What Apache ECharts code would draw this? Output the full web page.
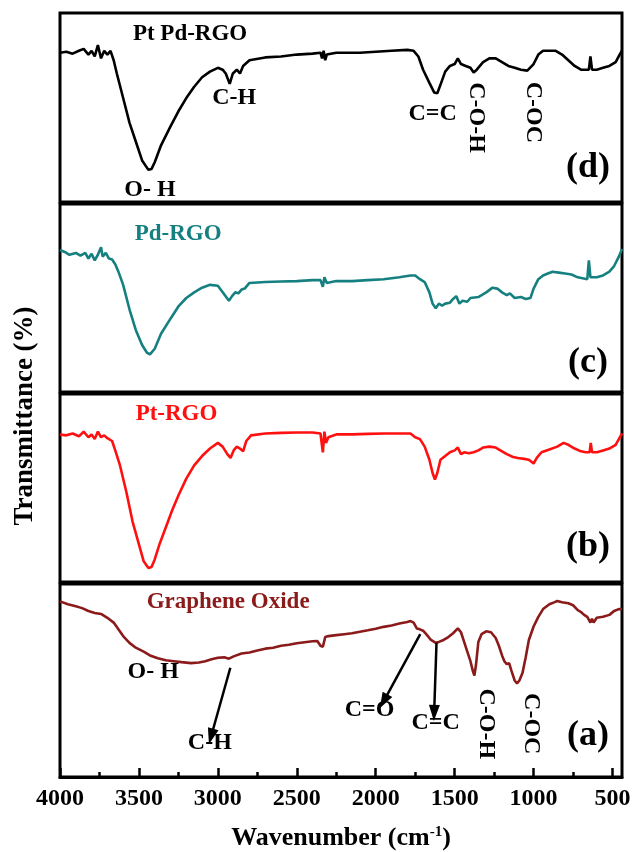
<!DOCTYPE html>
<html><head><meta charset="utf-8">
<script src="https://cdn.jsdelivr.net/npm/echarts@6/dist/echarts.min.js"></script>
<style>html,body{margin:0;padding:0;background:#fff}#c{width:633px;height:852px}</style>
</head><body><div id="c"></div>
<script>
// ---- data (wavenumber cm-1, relative transmittance within each panel) ----
const ptpdData = [[4000,79],[3960,79.5],[3920,78.5],[3880,80],[3850,81],[3820,78],[3800,80],[3780,77],[3760,83],[3740,76],[3720,80],[3700,78],[3680,80],[3660,75],[3640,68],[3600,55],[3560,42],[3520,32],[3480,22],[3440,17],[3420,17.5],[3400,21],[3360,30],[3300,40],[3250,48],[3200,55],[3150,61],[3100,66],[3050,69],[3000,71],[2970,70],[2950,68],[2925,62.5],[2905,68],[2880,70],[2860,68],[2840,72],[2800,75],[2700,76.5],[2600,77],[2500,78],[2400,78.5],[2350,79],[2340,76],[2330,80],[2320,75],[2310,78],[2250,79],[2100,79],[2000,79.5],[1900,80],[1800,80.5],[1760,80],[1730,77],[1700,70],[1660,63],[1630,58],[1610,57.5],[1590,62],[1560,69],[1530,72],[1500,73],[1480,76],[1460,73],[1430,72],[1400,71],[1380,68.5],[1360,70],[1320,74],[1280,76],[1240,76],[1200,74],[1160,72],[1120,71],[1080,70],[1040,69.5],[1000,73],[970,78],[940,80],[900,80],[860,80],[820,78],[780,75],[740,72],[700,70],[670,70],[650,70],[640,77],[630,70],[600,70],[560,71],[520,72],[480,74],[455,78],[440,80]];
const pdData = [[4000,75.5],[3970,74.5],[3940,73],[3900,74],[3870,72.5],[3840,74],[3820,71],[3800,73.5],[3780,70],[3760,73],[3740,77],[3730,72],[3710,74],[3690,71],[3670,70.5],[3650,68],[3630,64],[3600,57],[3560,44],[3520,33],[3480,25],[3450,21],[3430,20],[3400,23],[3360,31],[3300,39],[3250,45.5],[3200,50],[3150,53],[3100,55.5],[3050,57],[3000,56.5],[2960,52],[2930,48.5],[2910,51],[2890,53],[2870,52.5],[2850,54.5],[2830,55],[2800,58],[2700,58.5],[2600,58.8],[2500,59],[2400,59.5],[2350,59.5],[2335,56],[2325,61],[2310,58],[2250,59],[2150,59],[2050,59.5],[1950,60],[1850,61],[1780,62],[1750,62],[1720,60],[1690,58.5],[1660,53],[1640,47],[1620,44.5],[1600,47],[1580,46],[1560,47],[1530,47.5],[1510,49.5],[1490,51],[1470,47],[1450,48.5],[1420,48],[1400,50],[1350,50.5],[1300,53],[1260,55.5],[1230,55],[1200,53],[1170,51.5],[1150,52.5],[1120,50],[1080,50.5],[1050,49.5],[1020,50],[1000,55],[970,60],[940,62],[910,63],[880,64],[840,63.5],[800,63],[760,62.5],[720,61],[690,60.5],[660,60],[650,70],[640,61],[600,61],[560,62],[520,64],[490,67],[460,72],[440,76]];
const ptData = [[4000,78.5],[3960,78],[3920,79],[3880,77.5],[3850,80],[3820,77],[3800,78.5],[3780,76],[3760,80],[3740,77],[3720,78],[3700,76.5],[3670,75],[3650,70],[3620,62],[3580,48],[3540,32],[3500,20],[3470,11],[3440,7.5],[3420,8],[3400,12],[3370,20],[3330,29],[3290,38],[3250,46],[3200,55],[3150,62],[3100,67],[3050,71],[3000,74],[2970,72],[2940,68],[2920,66],[2900,70],[2880,72],[2860,71],[2840,69.5],[2820,75],[2790,78],[2700,79],[2600,79.3],[2500,79.5],[2400,79.5],[2350,79],[2335,69],[2325,80],[2315,74],[2300,77],[2250,78.5],[2150,78.5],[2050,78.8],[1950,79],[1850,79],[1780,79],[1750,77],[1720,76],[1690,72],[1660,65],[1640,58],[1625,54.5],[1610,58],[1590,65],[1560,67],[1530,69],[1500,70],[1480,71.5],[1460,68],[1440,69],[1410,68.5],[1380,69],[1350,70],[1320,71.5],[1280,72],[1240,71.5],[1200,69.5],[1170,68],[1130,66.5],[1100,66],[1060,65.5],[1030,65],[1000,63],[980,66],[950,69],[900,70.5],[850,72],[810,74],[780,73],[740,71],[700,69.5],[670,69],[645,69],[638,74],[630,69],[600,69],[560,70],[520,71],[480,73],[460,76],[440,79]];
const goData = [[4000,91],[3950,89.5],[3900,88.5],[3860,87.5],[3820,86],[3780,85],[3740,84.5],[3700,82.5],[3660,80],[3630,76.5],[3600,73],[3560,69.5],[3520,67],[3470,65],[3430,63],[3380,61.5],[3330,60.5],[3280,60],[3230,59.5],[3170,59],[3120,59.3],[3080,60],[3040,61],[3000,61.8],[2960,62],[2930,61.3],[2900,62.5],[2850,64],[2800,64.5],[2750,65.5],[2700,66.5],[2650,67],[2600,68],[2550,68.5],[2500,69.3],[2450,69.8],[2400,70.3],[2370,70.5],[2350,68],[2335,67.5],[2320,72.5],[2300,73],[2250,73.5],[2200,74],[2150,74.5],[2100,75.3],[2050,76],[2000,76.8],[1950,77.8],[1900,78.5],[1850,79.5],[1800,80.3],[1780,80.8],[1760,80],[1740,77],[1720,76.5],[1700,75.8],[1680,74],[1650,71],[1620,69.5],[1600,70],[1570,71],[1540,72.5],[1510,74.5],[1480,77],[1460,75],[1440,70],[1420,65],[1400,60],[1385,55],[1375,52.5],[1365,58],[1350,70],[1330,74],[1300,75.5],[1270,75],[1240,72],[1220,68],[1200,63],[1185,60],[1170,58.5],[1155,59],[1140,55],[1120,50],[1105,48.5],[1090,50],[1070,54],[1050,62],[1030,71],[1000,78],[970,83],[940,87],[900,89.5],[870,90.5],[850,91.2],[820,90.5],[780,90],[750,89],[720,86.5],[700,85.5],[680,84],[660,83],[640,80],[630,82],[620,80],[600,82.5],[560,83],[520,84],[490,86],[460,87],[440,87]];
const seriesNames = ['Pt Pd-RGO','Pd-RGO','Pt-RGO','Graphene Oxide'];
const panelTags = ['(d)','(c)','(b)','(a)'];
const majorTicks = [4000,3500,3000,2500,2000,1500,1000,500];
const minorTicks = [3750,3250,2750,2250,1750,1250,750];

// ---- styling / layout ----
const FONT = '"Liberation Serif","Times New Roman",serif';
const colors = ['#000000','#168080','#ff1010','#8b1a1a'];
const allData = [ptpdData, pdData, ptData, goData];
const gridBoxes = [[13,189],[204,188],[394,188],[584,193]];

const chart = echarts.init(document.getElementById('c'));
const grids = gridBoxes.map(([t,h]) => ({left:60, right:11, top:t, height:h, show:true, borderColor:'#000', borderWidth:3, containLabel:false, outerBoundsMode:'none'}));
const xAxes = gridBoxes.map((g,i) => ({
  type:'value', gridIndex:i, min:440, max:4000, inverse:true, show: i===3,
  axisLine:{show:true, onZero:false, lineStyle:{color:'#000', width:3}},
  axisTick:{show:true, inside:true, length:9, lineStyle:{color:'#000', width:2.5}, customValues:majorTicks},
  axisLabel:{show:true, customValues:majorTicks, formatter:v => String(v), fontFamily:FONT, fontWeight:'bold', fontSize:24, color:'#000', margin:10},
  splitLine:{show:false},
  name: i===3 ? 'Wavenumber (cm{sup|-1})' : '',
  nameLocation:'middle', nameGap:48,
  nameTextStyle:{fontFamily:FONT, fontWeight:'bold', fontSize:26, color:'#000',
    rich:{sup:{fontFamily:FONT, fontWeight:'bold', fontSize:15, color:'#000', verticalAlign:'top', padding:[0,0,12,0]}}}
}));
xAxes.push({
  type:'value', gridIndex:3, min:440, max:4000, inverse:true, position:'bottom',
  axisLine:{show:false}, axisLabel:{show:false}, splitLine:{show:false},
  axisTick:{show:true, inside:true, length:5, lineStyle:{color:'#000', width:2.5}, customValues:minorTicks}
});
const yAxes = gridBoxes.map((g,i) => ({type:'value', gridIndex:i, min:0, max:100, show:false}));

const series = allData.map((d,i) => ({
  type:'line', name:seriesNames[i], xAxisIndex:i, yAxisIndex:i, data:d,
  showSymbol:false, symbol:'none', lineStyle:{color:colors[i], width:2.6}, silent:true
}));
// arrows in panel (a)
series[3].markLine = {
  silent:true, symbol:['none','triangle'], symbolSize:[11,16],
  label:{show:false}, lineStyle:{color:'#000', width:2.5, type:'solid'},
  data:[
    [{coord:[2921,56.6]},{coord:[3043,21]}],
    [{coord:[1718,74]},{coord:[1950,39.2]}],
    [{coord:[1615,69.6]},{coord:[1630,33.2]}]
  ]
};

chart.setOption({animation:false, backgroundColor:'#fff', grid:grids, xAxis:xAxes, yAxis:yAxes, series:series});

const annotations = [
  {p:0, t:seriesNames[0], wn:3176, v:88.9, c:colors[0], s:23},
  {p:0, t:'O- H', wn:3430, v:6.6},
  {p:0, t:'C-H', wn:2896, v:55.3},
  {p:0, t:'C=C', wn:1640, v:46.5},
  {p:0, t:'C-O-H', wn:1365, v:44.7, r:true},
  {p:0, t:'C-OC', wn:1005, v:47.4, r:true},
  {p:0, t:panelTags[0], wn:655, v:18, s:36},
  {p:1, t:seriesNames[1], wn:3252, v:84, c:colors[1], s:23},
  {p:1, t:panelTags[1], wn:655, v:15.5, s:36},
  {p:2, t:seriesNames[2], wn:3262, v:89.3, c:colors[2], s:23},
  {p:2, t:panelTags[2], wn:655, v:18.7, s:36},
  {p:3, t:seriesNames[3], wn:2935, v:90.9, c:colors[3], s:23},
  {p:3, t:'O- H', wn:3410, v:54.4},
  {p:3, t:'C-H', wn:3051, v:17.7},
  {p:3, t:'C=O', wn:2039, v:34.9},
  {p:3, t:'C=C', wn:1621, v:28},
  {p:3, t:'C-O-H', wn:1302, v:27.6, r:true},
  {p:3, t:'C-OC', wn:1016, v:27.6, r:true},
  {p:3, t:panelTags[3], wn:655, v:21.5, s:36}
];
const graphics = annotations.map(a => {
  const pt = chart.convertToPixel({xAxisIndex:a.p, yAxisIndex:a.p}, [a.wn, a.v]);
  return {type:'text', x:pt[0], y:pt[1], rotation: a.r ? -Math.PI/2 : 0, silent:true,
    style:{text:a.t, font:'bold ' + (a.s||24) + 'px ' + FONT, fill:a.c||'#000', align:'center', verticalAlign:'middle'}};
});
graphics.push({type:'text', x:25, y:416, rotation:Math.PI/2, silent:true,
  style:{text:'Transmittance (%)', font:'bold 27px ' + FONT, fill:'#000', align:'center', verticalAlign:'middle'}});
chart.setOption({graphic:graphics});
</script>
</body></html>
